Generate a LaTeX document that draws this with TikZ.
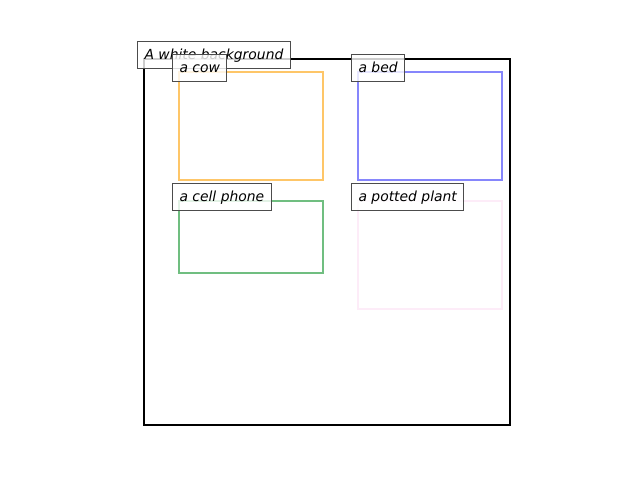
\documentclass[tikz,border=0pt]{standalone}
\usepackage{fontspec}
\setmainfont{DejaVu Sans}
\usepackage{tikz}
\usetikzlibrary{positioning}
\definecolor{cowcol}{RGB}{254,198,104}
\definecolor{bedcol}{RGB}{134,134,252}
\definecolor{phonecol}{RGB}{112,190,128}
\definecolor{plantcol}{RGB}{253,236,248}
\tikzset{labelbox/.style={draw=black!70, line width=1pt, fill=white, fill opacity=0.8, text opacity=1,
      anchor=base west, inner xsep=7pt, inner ysep=6pt, text height=12pt, text depth=3.3pt,
      font=\fontsize{13.9}{16}\selectfont\itshape},
    objbox/.style={line width=2.2pt}}

\begin{document}
\begin{tikzpicture}[x=1pt,y=-1pt]
                 \useasboundingbox (0,0) rectangle (640,480);

                 % the frame
                 \draw[black, line width=2.2pt] (144,59) rectangle (510,425);

                 \draw[objbox, cowcol] (179,72) rectangle (323,180);
                 \draw[objbox, bedcol] (358,72) rectangle (502,180);
                 \draw[objbox, phonecol] (179,201) rectangle (323,273);
                 \draw[objbox, plantcol] (358,201) rectangle (502,309);

                 % labels
                 \node[labelbox] (background) at (137,59) {A white background};
                 \node[labelbox] (cow) at (172,72) {a cow};
                 \node[labelbox] (bed) at (351,72) {a bed};
                 \node[labelbox] (phone) at (172,201) {a cell phone};
                 \node[labelbox] (plant) at (351,201) {a potted plant};

\end{tikzpicture}
\end{document}
